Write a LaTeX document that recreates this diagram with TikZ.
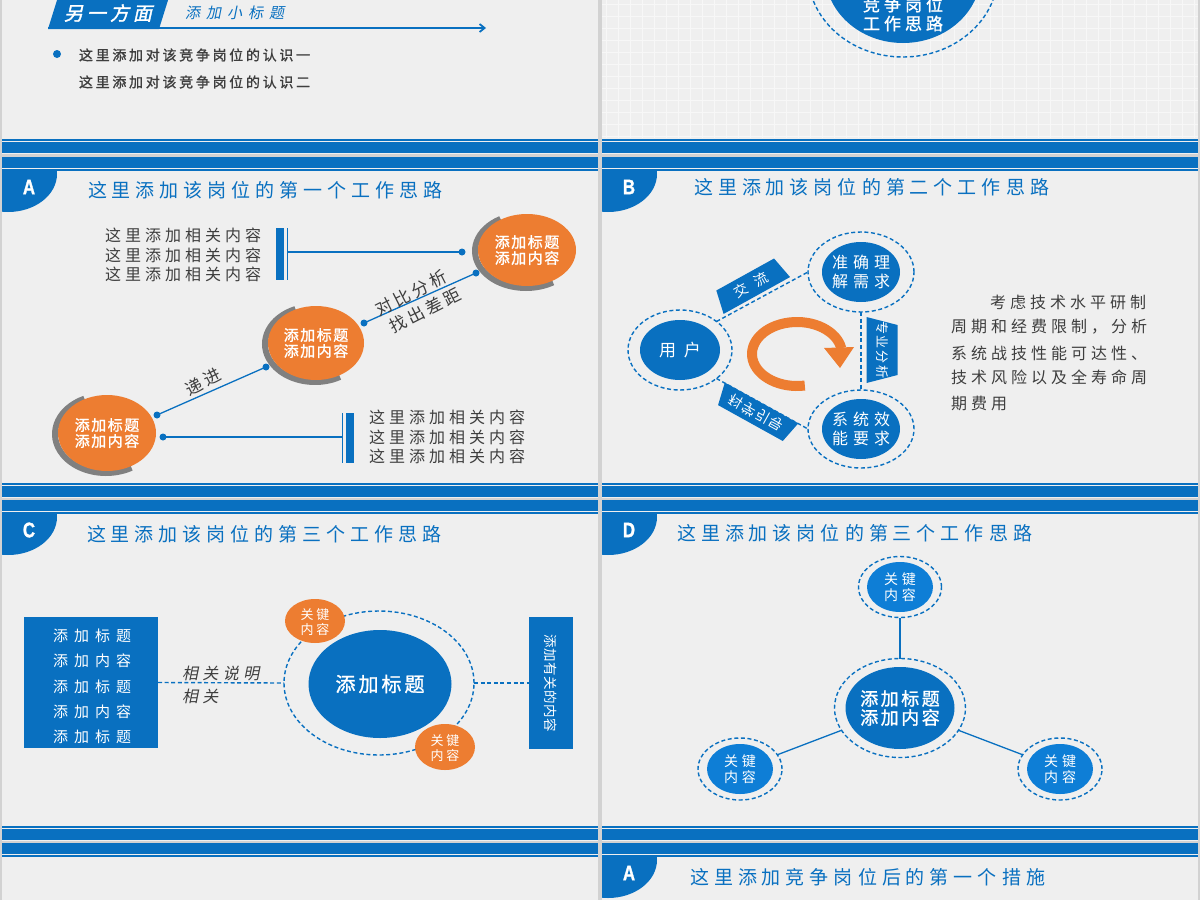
\documentclass[tikz,border=0pt]{standalone}
\usepackage{fontspec}
\usetikzlibrary{shapes.geometric,arrows.meta,calc}
\newfontfamily\cjk{Noto Sans CJK SC}
\newfontfamily\cjkb[FakeBold=1.2]{Noto Sans CJK SC}
\newfontfamily\cjki[FakeSlant=0.2]{Noto Sans CJK SC}
\newfontfamily\cjkbi[FakeSlant=0.22,FakeBold=1.8]{Noto Sans CJK SC}
\newfontfamily\badgefont[FakeBold=1.5]{Liberation Sans}
\definecolor{mblue}{RGB}{9,112,192}
\definecolor{dblue}{RGB}{14,126,214}
\definecolor{morange}{RGB}{237,125,49}
\definecolor{mgray}{RGB}{128,128,128}
\definecolor{slidebg}{RGB}{239,239,239}
\definecolor{gapbg}{RGB}{210,210,210}
\definecolor{dtext}{RGB}{62,62,62}
\definecolor{gridc}{RGB}{247,247,247}
\newcommand\spc[2]{\def\spcamt{#1}\spcA#2\relax}
\def\spcA#1{\ifx\relax#1\else#1\expandafter\spcB\fi}
\def\spcB#1{\ifx\relax#1\else\hskip\spcamt\relax#1\expandafter\spcB\fi}
\newcommand\fsz[2]{\fontsize{#1}{#2}\selectfont}
\newcommand\slidebox[2]{%
  \fill[slidebg] (#1,#2) rectangle ++(596,341);
  \fill[mblue] (#1,#2) rectangle ++(596,11);
  \fill[mblue] (#1,#2) ++(0,12) rectangle ++(596,2);
  \fill[mblue] (#1,#2) ++(0,326) rectangle ++(596,2);
  \fill[mblue] (#1,#2) ++(0,329) rectangle ++(596,11);
}
\newcommand\badge[4]{%
  \begin{scope}
    \clip (#1,#2) ++(0,14) rectangle ++(596,60);
    \fill[mblue] (#1,#2) ++(6,17) ellipse [x radius=49, y radius=38];
  \end{scope}
  \path (#1,#2) ++(27,30) node[badgetxt] (#4) {#3};
}
\tikzset{
  every node/.style={inner sep=0pt, outer sep=0pt},
  badgetxt/.style={text=white, font=\badgefont\bfseries\fsz{21}{21}, xscale=0.8},
  ttl/.style={anchor=west, text=mblue, font=\cjk\fsz{19}{22}},
  blueell/.style={ellipse, fill=mblue},
  lblueell/.style={ellipse, fill=dblue},
  dring/.style={ellipse, draw=mblue, line width=1.4pt, dash pattern=on 4pt off 2.6pt},
  orell/.style={ellipse, fill=morange},
  wtxt/.style={text=white, align=center},
  dtxt/.style={text=dtext},
  pdot/.style={circle, fill=mblue, minimum size=7pt},
  conn/.style={draw=mblue, line width=1.3pt},
  dconn/.style={draw=mblue, line width=1.4pt, dash pattern=on 4pt off 2.6pt},
  grayarc/.style={draw=mgray, line width=6pt},
  tagtxt/.style={text=white, font=\cjk\fsz{14}{14}},
  barbox/.style={fill=mblue},
}
\begin{document}
\begin{tikzpicture}[x=1pt,y=-1pt]
\useasboundingbox (0,0) rectangle (1200,900);
\clip (0,0) rectangle (1200,900);
\fill[gapbg] (0,0) rectangle (1200,900);
% ---------- slide frames ----------
\slidebox{2}{-187}
\slidebox{602}{-187}
\slidebox{2}{157}
\slidebox{602}{157}
\slidebox{2}{500}
\slidebox{602}{500}
\slidebox{2}{843}
\slidebox{602}{843}
% grid of the top-right slide
\begin{scope}
  \clip (602,0) rectangle (1198,138);
  \foreach \gx in {606,618,...,1198} \draw[gridc, line width=0.8pt] (\gx,0) -- (\gx,138);
  \foreach \gy in {4,16,...,136} \draw[gridc, line width=0.8pt] (602,\gy) -- (1198,\gy);
\end{scope}
% ---------- top-left slide ----------
\fill[mblue] (58,-3) -- (169,-3) -- (159,29) -- (48,29) -- cycle;
\node[wtxt, font=\cjkbi\fsz{19}{19}] (hd0) at (108,13) {\spc{4pt}{另一方面}};
\node[anchor=west, text=mblue, font=\cjki\fsz{15}{15}] (sub0) at (185,13) {\spc{6pt}{添加小标题}};
\coordinate (ar0) at (48,28);
\coordinate (ar1) at (486,28);
\draw[conn, line width=1.8pt, -{Straight Barb[length=5pt,width=8pt]}] (ar0) -- (ar1);
\node[pdot, minimum size=8pt] (bul0) at (57,54) {};
\node[anchor=west, dtxt, font=\cjkb\fsz{14}{14}] (tl01) at (79,55) {\spc{2.7pt}{这里添加对该竞争岗位的认识一}};
\node[anchor=west, dtxt, font=\cjkb\fsz{14}{14}] (tl02) at (79,82) {\spc{2.7pt}{这里添加对该竞争岗位的认识二}};
% ---------- top-right slide ----------
\node[dring, minimum width=190pt, minimum height=168pt] (trR) at (903,-27) {};
\node[blueell, minimum width=156pt, minimum height=140pt] (trB) at (903,-27) {};
\node[wtxt, font=\cjkb\fsz{17}{19}] (trT) at (903,14) {\spc{4pt}{竞争岗位}\\\spc{4pt}{工作思路}};
% ---------- slide A ----------
\badge{2}{157}{A}{bdgA}
\node[ttl] (ttlA) at (88,190) {\spc{5pt}{这里添加该岗位的第一个工作思路}};
\coordinate (ocA1) at (107,433);
\coordinate (ocA2) at (316,343);
\coordinate (ocA3) at (527,250);
\draw[grayarc] ([shift={(-1,1)}]ocA1) ++(-115:51 and 39) arc[start angle=-115, end angle=-300, x radius=51, y radius=39];
\draw[grayarc] ([shift={(-1,1)}]ocA2) ++(-113:50 and 38) arc[start angle=-113, end angle=-300, x radius=50, y radius=38];
\draw[grayarc] ([shift={(-1,1)}]ocA3) ++(-120:51 and 37) arc[start angle=-120, end angle=-302, x radius=51, y radius=37];
\node[orell, minimum width=98pt, minimum height=76pt] (oA1) at (ocA1) {};
\node[orell, minimum width=96pt, minimum height=74pt] (oA2) at (ocA2) {};
\node[orell, minimum width=98pt, minimum height=72pt] (oA3) at (ocA3) {};
\node[wtxt, font=\cjkb\fsz{15}{16}] (oA1t) at (oA1) {\spc{1.5pt}{添加标题}\\\spc{1.5pt}{添加内容}};
\node[wtxt, font=\cjkb\fsz{15}{16}] (oA2t) at (oA2) {\spc{1.5pt}{添加标题}\\\spc{1.5pt}{添加内容}};
\node[wtxt, font=\cjkb\fsz{15}{16}] (oA3t) at (oA3) {\spc{1.5pt}{添加标题}\\\spc{1.5pt}{添加内容}};
\node[pdot] (dA1) at (157,415) {};
\node[pdot] (dA2) at (266,367) {};
\node[pdot] (dA3) at (364,323) {};
\node[pdot] (dA4) at (476,273) {};
\node[pdot] (dA5) at (163,437) {};
\node[pdot] (dA6) at (462,252) {};
\node[barbox, minimum width=8pt, minimum height=52pt] (barA1) at (280,254) {};
\node[barbox, minimum width=1.6pt, minimum height=52pt] (barA1l) at (287.5,254) {};
\node[barbox, minimum width=1.6pt, minimum height=50pt] (barA2l) at (342.5,438) {};
\node[barbox, minimum width=8pt, minimum height=50pt] (barA2) at (350,438) {};
\draw[conn] (barA1l.center |- dA6) -- (dA6.center);
\draw[conn] (dA5.center) -- (barA2l.center |- dA5);
\draw[conn] (dA1.center) -- (dA2.center);
\draw[conn] (dA3.center) -- (dA4.center);
\node[dtxt, font=\cjk\fsz{16}{19.5}, align=center, anchor=east] (tbA1) at (261,255) {\spc{4pt}{这里添加相关内容}\\\spc{4pt}{这里添加相关内容}\\\spc{4pt}{这里添加相关内容}};
\node[dtxt, font=\cjk\fsz{16}{19.5}, align=center, anchor=west] (tbA2) at (369,437) {\spc{4pt}{这里添加相关内容}\\\spc{4pt}{这里添加相关内容}\\\spc{4pt}{这里添加相关内容}};
\node[dtxt, font=\cjk\fsz{17}{17}, rotate=27] (lbA1) at (203,382) {\spc{4pt}{递进}};
\node[dtxt, font=\cjk\fsz{17}{17}, rotate=27] (lbA2) at (411,293) {\spc{3pt}{对比分析}};
\node[dtxt, font=\cjk\fsz{17}{17}, rotate=27] (lbA3) at (425,310) {\spc{3pt}{找出差距}};
% ---------- slide B ----------
\badge{602}{157}{B}{bdgB}
\node[ttl] (ttlB) at (694,187) {\spc{5pt}{这里添加该岗位的第二个工作思路}};
\node[dring, minimum width=104pt, minimum height=80pt] (uR) at (680,350) {};
\node[blueell, minimum width=80pt, minimum height=60pt] (uB) at (680,350) {};
\node[wtxt, font=\cjk\fsz{17}{17}] (uT) at (uB) {\spc{8pt}{用户}};
\node[dring, minimum width=106pt, minimum height=80pt] (n1R) at (861,272) {};
\node[blueell, minimum width=78pt, minimum height=60pt] (n1B) at (861,272) {};
\node[wtxt, font=\cjk\fsz{16}{19}] (n1T) at (n1B) {\spc{5pt}{准确理}\\\spc{5pt}{解需求}};
\node[dring, minimum width=106pt, minimum height=78pt] (n2R) at (861,429) {};
\node[blueell, minimum width=78pt, minimum height=60pt] (n2B) at (861,429) {};
\node[wtxt, font=\cjk\fsz{16}{19}] (n2T) at (n2B) {\spc{5pt}{系统效}\\\spc{5pt}{能要求}};
\draw[dconn] (uR.38) -- (n1R.west);
\draw[dconn] (uR.-38) -- (n2R.west);
\draw[dconn] (n1R.south) -- (n2R.north);
% tag boxes
\node[rotate=29, minimum width=76pt, minimum height=24pt] (tgB1) at (751,285) {};
\fill[mblue] (tgB1.south west) -- (tgB1.south east) -- ($(tgB1.north east)!5pt!(tgB1.north west)$) -- ($(tgB1.north west)!5pt!(tgB1.north east)$) -- cycle;
\node[tagtxt, rotate=29] (tgB1t) at (tgB1) {\spc{9pt}{交流}};
\node[rotate=-29, minimum width=84pt, minimum height=23pt] (tgB2) at (756,413) {};
\fill[mblue] (tgB2.north west) -- (tgB2.north east) -- ($(tgB2.south east)!5pt!(tgB2.south west)$) -- ($(tgB2.south west)!5pt!(tgB2.south east)$) -- cycle;
\node[tagtxt, rotate=-29, yscale=-1] (tgB2t) at (tgB2) {\spc{1pt}{科学引导}};
\node[minimum width=31pt, minimum height=66pt] (tgB3) at (882,350) {};
\fill[mblue] (tgB3.north west) -- (tgB3.south west) -- ($(tgB3.south east)!8pt!(tgB3.north east)$) -- ($(tgB3.north east)!8pt!(tgB3.south east)$) -- cycle;
\node[tagtxt, rotate=-90, font=\cjk\fsz{13}{13}] (tgB3t) at (tgB3) {\spc{2pt}{专业分析}};
% orange cycle arrow
\draw[morange, line width=10pt] (797,354) ++(80:45 and 32) arc[start angle=80, end angle=350, x radius=45, y radius=32];
\fill[morange] (824,348) -- (854,347) -- (840,368) -- cycle;
\node[dtxt, anchor=west, font=\cjk\fsz{16}{16}] (pB1) at (990,302) {\spc{4pt}{考虑技术水平研制}};
\node[dtxt, anchor=west, font=\cjk\fsz{16}{16}] (pB2) at (951,327) {\spc{4pt}{周期和经费限制，分析}};
\node[dtxt, anchor=west, font=\cjk\fsz{16}{16}] (pB3) at (951,353) {\spc{4pt}{系统战技性能可达性、}};
\node[dtxt, anchor=west, font=\cjk\fsz{16}{16}] (pB4) at (951,377) {\spc{4pt}{技术风险以及全寿命周}};
\node[dtxt, anchor=west, font=\cjk\fsz{16}{16}] (pB5) at (951,403) {\spc{4pt}{期费用}};
% ---------- slide C ----------
\badge{2}{500}{C}{bdgC}
\node[ttl] (ttlC) at (87,534) {\spc{5pt}{这里添加该岗位的第三个工作思路}};
\node[barbox, minimum width=134pt, minimum height=131pt] (lrC) at (91,682.5) {};
\node[wtxt, font=\cjk\fsz{15}{25.25}] (lrCt) at (92,686.5) {\spc{6pt}{添加标题}\\\spc{6pt}{添加内容}\\\spc{6pt}{添加标题}\\\spc{6pt}{添加内容}\\\spc{6pt}{添加标题}};
\node[dring, minimum width=190pt, minimum height=144pt] (crC) at (379,683) {};
\node[blueell, minimum width=143pt, minimum height=108pt] (ceC) at (380,684) {};
\node[wtxt, font=\cjkb\fsz{20}{20}] (ceCt) at (ceC) {\spc{3pt}{添加标题}};
\node[orell, minimum width=60pt, minimum height=44pt] (o1C) at (315,621) {};
\node[wtxt, font=\cjk\fsz{13}{15}] (o1Ct) at (315,622.5) {\spc{3pt}{关键}\\\spc{3pt}{内容}};
\node[orell, minimum width=60pt, minimum height=46pt] (o2C) at (445,747) {};
\node[wtxt, font=\cjk\fsz{13}{15}] (o2Ct) at (445,748) {\spc{3pt}{关键}\\\spc{3pt}{内容}};
\node[barbox, minimum width=44pt, minimum height=132pt] (rrC) at (551,683) {};
\node[wtxt, rotate=-90, font=\cjk\fsz{13.5}{13.5}] (rrCt) at (rrC) {\spc{0.5pt}{添加有关的内容}};
\draw[dconn] (lrC.east) -- (crC.west);
\draw[dconn] (crC.east) -- (rrC.west);
\node[dtxt, anchor=west, font=\cjki\fsz{16}{16}] (lbC1) at (182,673) {\spc{4.5pt}{相关说明}};
\node[dtxt, anchor=west, font=\cjki\fsz{16}{16}] (lbC2) at (182,696) {\spc{4.5pt}{相关}};
% ---------- slide D ----------
\badge{602}{500}{D}{bdgD}
\node[ttl] (ttlD) at (677,533) {\spc{5pt}{这里添加该岗位的第三个工作思路}};
\node[dring, minimum width=83pt, minimum height=61pt] (tDR) at (900,587) {};
\node[lblueell, minimum width=66pt, minimum height=50pt] (tDB) at (900,587) {};
\node[wtxt, font=\cjk\fsz{14}{16}] (tDT) at (tDB) {\spc{4pt}{关键}\\\spc{4pt}{内容}};
\node[dring, minimum width=131pt, minimum height=99pt] (cDR) at (900,708) {};
\node[blueell, minimum width=109pt, minimum height=82pt] (cDB) at (900,708) {};
\node[wtxt, font=\cjkb\fsz{18}{19}] (cDT) at (cDB) {\spc{2.5pt}{添加标题}\\\spc{2.5pt}{添加内容}};
\node[dring, minimum width=84pt, minimum height=62pt] (lDR) at (740,769) {};
\node[lblueell, minimum width=66pt, minimum height=50pt] (lDB) at (740,769) {};
\node[wtxt, font=\cjk\fsz{14}{16}] (lDT) at (lDB) {\spc{4pt}{关键}\\\spc{4pt}{内容}};
\node[dring, minimum width=84pt, minimum height=62pt] (rDR) at (1060,769) {};
\node[lblueell, minimum width=66pt, minimum height=50pt] (rDB) at (1060,769) {};
\node[wtxt, font=\cjk\fsz{14}{16}] (rDT) at (rDB) {\spc{4pt}{关键}\\\spc{4pt}{内容}};
\draw[conn] (tDR) -- (cDR);
\draw[conn] (cDR) -- (lDR);
\draw[conn] (cDR) -- (rDR);
% ---------- bottom row ----------
\badge{602}{843}{A}{bdgE}
\node[ttl] (ttlE) at (690,877) {\spc{5pt}{这里添加竞争岗位后的第一个措施}};
\end{tikzpicture}
\end{document}
